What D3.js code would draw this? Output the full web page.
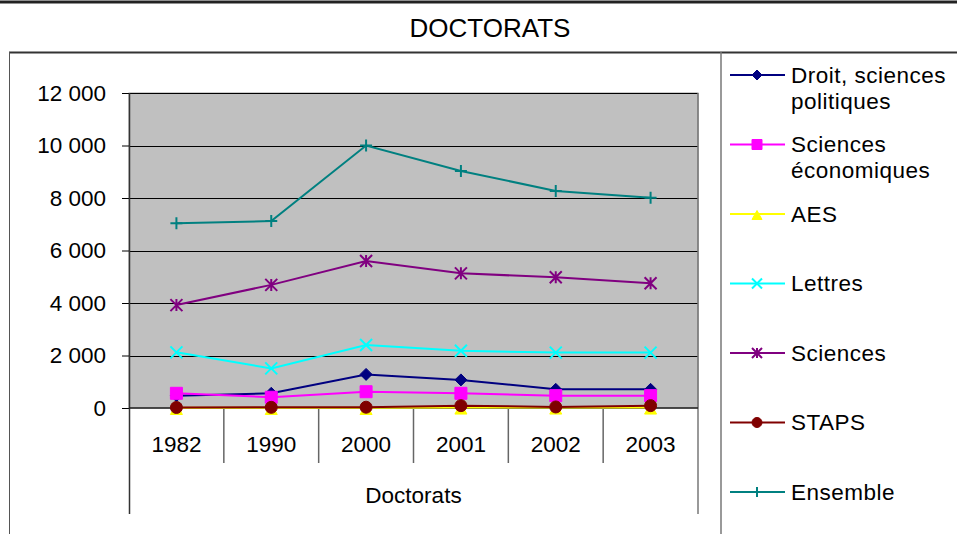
<!DOCTYPE html>
<html>
<head>
<meta charset="utf-8">
<script src="https://cdn.jsdelivr.net/npm/d3@7"></script>
<style>
  body { margin: 0; background: #fff; }
  svg { display: block; font-family: "Liberation Sans", Arial, sans-serif; }
</style>
</head>
<body>
<div id="chart"></div>
<script>
const years = ["1982", "1990", "2000", "2001", "2002", "2003"];
const yTicks = [0, 2000, 4000, 6000, 8000, 10000, 12000];

const droit     = [470, 560, 1280, 1070, 710, 710];
const economie  = [560, 410, 620, 560, 470, 470];
const aes       = [5, 5, 5, 20, 20, 20];
const lettres   = [2120, 1510, 2400, 2180, 2110, 2110];
const sciences  = [3920, 4690, 5600, 5130, 4980, 4750];
const staps     = [20, 25, 30, 90, 40, 90];
const ensemble  = [7040, 7120, 10000, 9030, 8270, 8010];

const seriesNames = ["Droit, sciences politiques", "Sciences économiques", "AES",
                     "Lettres", "Sciences", "STAPS", "Ensemble"];
const seriesColors = ["#000080", "#ff00ff", "#ffff00", "#00ffff", "#800080", "#800000", "#008080"];
const seriesMarkers = ["diamond", "square", "triangle", "cross", "star", "circle", "plus"];
const seriesValues = [droit, economie, aes, lettres, sciences, staps, ensemble];

const series = seriesNames.map((name, i) => ({
  name: name, color: seriesColors[i], marker: seriesMarkers[i], values: seriesValues[i]
}));

const width = 957, height = 534;
const plot = {left: 129, right: 698, top: 93, bottom: 408};

const svg = d3.select("#chart").append("svg")
  .attr("width", width)
  .attr("height", height);

// frame lines (the chart sits in a table)
svg.append("line").attr("x1", 0).attr("x2", width).attr("y1", 2).attr("y2", 2)
  .attr("stroke", "#222").attr("stroke-width", 3);
svg.append("line").attr("x1", 9).attr("x2", width).attr("y1", 52.5).attr("y2", 52.5)
  .attr("stroke", "#333").attr("stroke-width", 2);
svg.append("line").attr("x1", 9.5).attr("x2", 9.5).attr("y1", 52).attr("y2", height)
  .attr("stroke", "#555").attr("stroke-width", 1);
svg.append("line").attr("x1", 721).attr("x2", 721).attr("y1", 52).attr("y2", height)
  .attr("stroke", "#777").attr("stroke-width", 1.5);

svg.append("text")
  .attr("x", 490).attr("y", 37)
  .attr("text-anchor", "middle")
  .attr("font-size", 26)
  .text("DOCTORATS");

const x = d3.scaleBand().domain(years).range([plot.left, plot.right]).padding(0);
const y = d3.scaleLinear().domain([0, 12000]).range([plot.bottom, plot.top]);

const locale = d3.formatLocale({decimal: ",", thousands: "\u00a0", grouping: [3], currency: ["", " €"]});
const fmt = locale.format(",d");

// plot area
svg.append("rect")
  .attr("x", plot.left).attr("y", plot.top)
  .attr("width", plot.right - plot.left).attr("height", plot.bottom - plot.top)
  .attr("fill", "#c0c0c0")
  .attr("stroke", "#999").attr("stroke-width", 1);

// gridlines
svg.append("g")
  .selectAll("line")
  .data(yTicks.filter(d => d > 0))
  .join("line")
  .attr("x1", plot.left).attr("x2", plot.right)
  .attr("y1", d => Math.round(y(d)) + 0.5).attr("y2", d => Math.round(y(d)) + 0.5)
  .attr("stroke", "#000").attr("stroke-width", 1);

// y axis
const yAxis = svg.append("g")
  .attr("transform", `translate(${plot.left},0)`)
  .call(d3.axisLeft(y).tickValues(yTicks).tickFormat(fmt).tickSize(7).tickPadding(16));
yAxis.select(".domain").remove();
yAxis.selectAll(".tick line").attr("stroke", "#000");
yAxis.selectAll(".tick text")
  .attr("font-size", 22.5).attr("fill", "#000")
  .attr("font-family", "'Liberation Sans', Arial, sans-serif");

// left axis line, extended down through the category levels
svg.append("line")
  .attr("x1", plot.left + 0.5).attr("x2", plot.left + 0.5)
  .attr("y1", plot.top).attr("y2", 514)
  .attr("stroke", "#333").attr("stroke-width", 1.5);
svg.append("line")
  .attr("x1", plot.right).attr("x2", plot.right)
  .attr("y1", plot.top).attr("y2", 514)
  .attr("stroke", "#777").attr("stroke-width", 1.5);

// x axis baseline
svg.append("line")
  .attr("x1", plot.left).attr("x2", plot.right)
  .attr("y1", y(0)).attr("y2", y(0))
  .attr("stroke", "#222").attr("stroke-width", 1.5);

// category dividers
const bounds = years.slice(1).map(d => x(d));
svg.append("g")
  .selectAll("line")
  .data(bounds)
  .join("line")
  .attr("x1", d => d).attr("x2", d => d)
  .attr("y1", plot.bottom).attr("y2", 463)
  .attr("stroke", "#666").attr("stroke-width", 1.5);

svg.append("g")
  .selectAll("text")
  .data(years)
  .join("text")
  .attr("x", d => x(d) + x.bandwidth() / 2)
  .attr("y", 452)
  .attr("text-anchor", "middle")
  .attr("font-size", 22.5)
  .text(d => d);

svg.append("text")
  .attr("x", (plot.left + plot.right) / 2).attr("y", 503)
  .attr("text-anchor", "middle")
  .attr("font-size", 22.5)
  .text("Doctorats");

// markers
function markerPath(type, s) {
  const h = s / 2;
  switch (type) {
    case "diamond": return `M0,${-h}L${h},0L0,${h}L${-h},0Z`;
    case "square": return `M${-h},${-h}H${h}V${h}H${-h}Z`;
    case "triangle": return `M0,${-h * 0.7}L${h},${h * 1.1}L${-h},${h * 1.1}Z`;
    case "cross": return `M${-h},${-h}L${h},${h}M${h},${-h}L${-h},${h}`;
    case "star": return `M${-h},${-h}L${h},${h}M${h},${-h}L${-h},${h}M0,${-h}V${h}`;
    case "plus": return `M${-h},0H${h}M0,${-h}V${h}`;
    case "circle": return d3.symbol(d3.symbolCircle, Math.PI * h * h)();
  }
}
const filled = {diamond: true, square: true, triangle: true, circle: true};

function drawMarker(g, type, color, s) {
  g.append("path")
    .attr("d", markerPath(type, s))
    .attr("fill", filled[type] ? color : "none")
    .attr("stroke", color)
    .attr("stroke-width", filled[type] ? 1 : 2);
}

const line = d3.line()
  .x((d, i) => x(years[i]) + x.bandwidth() / 2)
  .y(d => y(d));

series.forEach(s => {
  const g = svg.append("g");
  g.append("path")
    .attr("d", line(s.values))
    .attr("fill", "none")
    .attr("stroke", s.color)
    .attr("stroke-width", 2);
  s.values.forEach((v, i) => {
    const m = g.append("g")
      .attr("transform", `translate(${x(years[i]) + x.bandwidth() / 2},${y(v)})`);
    drawMarker(m, s.marker, s.color, 12);
  });
});

// legend
const legendTop = 75, legendStep = 69.5;
series.forEach((s, i) => {
  const ly = legendTop + i * legendStep;
  const g = svg.append("g").attr("transform", `translate(0,${ly})`);
  g.append("line").attr("x1", 730).attr("x2", 785).attr("y1", 0).attr("y2", 0)
    .attr("stroke", s.color).attr("stroke-width", 2);
  const m = g.append("g").attr("transform", "translate(757,0)");
  drawMarker(m, s.marker, s.color, 10);

  const t = g.append("text")
    .attr("x", 791).attr("y", 7.5)
    .attr("font-size", 22.5)
    .attr("letter-spacing", 0.5);
  // wrap to the legend width
  const words = s.name.split(" ");
  let lineWords = [], tspan = t.append("tspan").attr("x", 791).attr("dy", 0);
  words.forEach(w => {
    lineWords.push(w);
    tspan.text(lineWords.join(" "));
    if (tspan.node().getComputedTextLength() > 162 && lineWords.length > 1) {
      lineWords.pop();
      tspan.text(lineWords.join(" "));
      lineWords = [w];
      tspan = t.append("tspan").attr("x", 791).attr("dy", 26).text(w);
    }
  });
});
</script>
</body>
</html>
